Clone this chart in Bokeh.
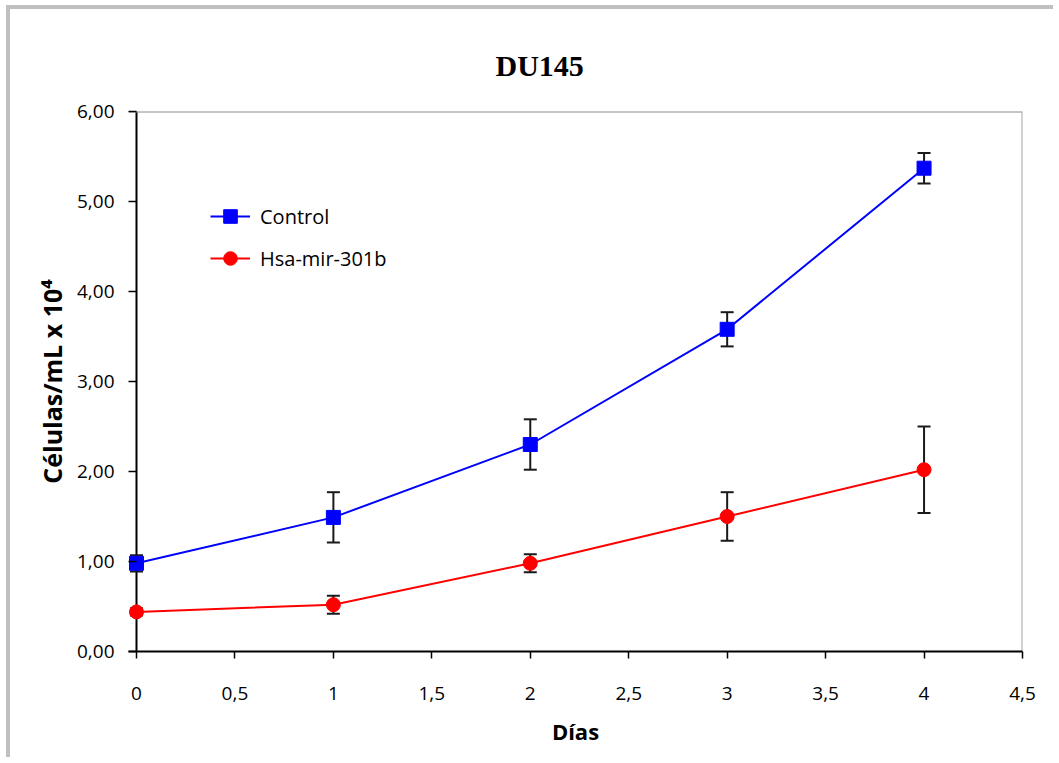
from bokeh.plotting import figure
from bokeh.embed import file_html
from bokeh.resources import INLINE
from bokeh.models import (FixedTicker, CustomJSTickFormatter, Whisker, TeeHead,
                          ColumnDataSource, Span, Range1d)

# ---- data ----
days = [0, 1, 2, 3, 4]
control = [0.98, 1.49, 2.30, 3.58, 5.37]
control_err = [0.09, 0.28, 0.28, 0.19, 0.17]
mir = [0.44, 0.52, 0.98, 1.50, 2.02]
mir_err = [0.04, 0.10, 0.10, 0.27, 0.48]
x_ticks = [0, 0.5, 1, 1.5, 2, 2.5, 3, 3.5, 4, 4.5]
y_ticks = [0, 1, 2, 3, 4, 5, 6]

FONT = "Open Sans"

# small left pad so markers at x=0 are not clipped (8px at this scale)
X_PAD = 0.0406

p = figure(width=1047, height=752, x_range=Range1d(-X_PAD, 4.5), y_range=Range1d(0, 6),
           output_backend="svg", toolbar_location=None,
           min_border_left=118, min_border_right=35, min_border_top=102, min_border_bottom=110,
           title="DU145")
p.styles = {"border-left": "4px solid #c0c0c0", "border-top": "4px solid #c0c0c0",
            "margin-left": "6px", "margin-top": "5px"}

p.title.text_font = "Liberation Serif"
p.title.text_font_style = "bold"
p.title.text_font_size = "30px"
p.title.text_color = "black"
p.title.align = "left"
p.title.offset = 367
p.title.standoff = 59

p.outline_line_color = None
p.xgrid.visible = False
p.ygrid.visible = False
p.background_fill_color = "white"
p.border_fill_color = "white"

fmt = CustomJSTickFormatter(code="return tick.toFixed(2).replace('.', ',');")
xfmt = CustomJSTickFormatter(code="return (Math.round(tick*10)/10).toString().replace('.', ',');")

p.yaxis.ticker = FixedTicker(ticks=y_ticks)
p.yaxis.formatter = fmt
p.xaxis.ticker = FixedTicker(ticks=x_ticks)
p.xaxis.formatter = xfmt
for ax in (p.xaxis[0], p.yaxis[0]):
    ax.axis_line_color = "black"
    ax.axis_line_width = 2
    ax.major_tick_line_color = "black"
    ax.major_tick_line_width = 1.5
    ax.minor_tick_line_color = None
    ax.major_label_text_font = FONT
    ax.major_label_text_font_size = "19px"
    ax.major_label_text_color = "black"
    ax.axis_label_text_font = FONT
    ax.axis_label_text_font_style = "bold"
    ax.axis_label_text_color = "black"
p.xaxis.major_tick_in = 0
p.xaxis.major_tick_out = 7
p.xaxis.major_label_standoff = 28
p.xaxis.axis_label = "Días"
p.xaxis.axis_label_text_font_size = "22px"
p.xaxis.axis_label_standoff = 13
# y axis: line drawn at x=0 by a span; ticks reach from frame edge to x=0
p.yaxis.axis_line_color = None
p.yaxis.major_tick_in = 8
p.yaxis.major_tick_out = 0
p.yaxis.major_label_standoff = 14
p.yaxis.axis_label = "Células/mL x 10⁴"
p.yaxis.axis_label_text_font_size = "25px"
p.yaxis.axis_label_standoff = 5

p.add_layout(Span(location=0, dimension="height", line_color="black", line_width=2,
                  level="underlay"))
# frame top / right borders
p.add_layout(Span(location=6, dimension="width", line_color="#8c8c8c", line_width=2,
                  level="underlay"))
p.add_layout(Span(location=4.5, dimension="height", line_color="#a6a6a6", line_width=2,
                  level="underlay"))

src_c = ColumnDataSource(dict(x=days, y=control,
                              up=[v + e for v, e in zip(control, control_err)],
                              lo=[v - e for v, e in zip(control, control_err)]))
src_m = ColumnDataSource(dict(x=days, y=mir,
                              up=[v + e for v, e in zip(mir, mir_err)],
                              lo=[v - e for v, e in zip(mir, mir_err)]))

for src in (src_c, src_m):
    w = Whisker(source=src, base="x", upper="up", lower="lo",
                line_color="#1a1a1a", line_width=2, level="underlay",
                upper_head=TeeHead(size=13, line_color="#1a1a1a", line_width=2),
                lower_head=TeeHead(size=13, line_color="#1a1a1a", line_width=2))
    p.add_layout(w)

p.line("x", "y", source=src_c, line_color="#0000ff", line_width=2, legend_label="Control")
p.scatter("x", "y", source=src_c, marker="square", size=14, fill_color="#0000ff",
          line_color="#0000ff", legend_label="Control")
p.line("x", "y", source=src_m, line_color="#ff0000", line_width=2, legend_label="Hsa-mir-301b")
p.scatter("x", "y", source=src_m, marker="circle", size=14, fill_color="#ff0000",
          line_color="#ff0000", legend_label="Hsa-mir-301b")

lg = p.legend[0]
lg.location = (82, 376)
lg.border_line_color = None
lg.background_fill_alpha = 0
lg.padding = 0
lg.margin = 0
lg.glyph_width = 40
lg.glyph_height = 34
lg.label_height = 20
lg.spacing = 8
lg.label_standoff = 10
lg.label_text_font = FONT
lg.label_text_font_size = "20px"
lg.label_text_color = "black"

open("out.html", "w").write(file_html(p, INLINE))
